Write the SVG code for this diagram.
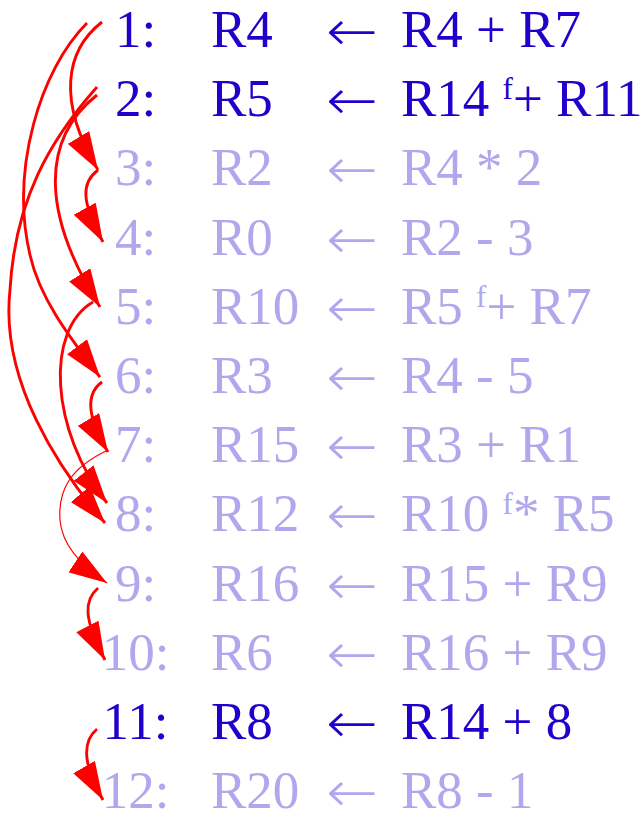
<svg xmlns="http://www.w3.org/2000/svg" width="644" height="813" viewBox="0 0 644 813">
<style>
text { font-family: "Liberation Serif", "Times New Roman", serif; font-size: 53px; }
.on { fill: #2200cc; }
.off { fill: #b0a8ec; }
.num { text-anchor: middle; }
.sup { font-size: 31px; }
.arr { font-family: "DejaVu Sans", sans-serif; font-weight: 200; font-size: 58px; }
.e { fill: none; stroke: #ff0000; stroke-width: 2.9; marker-end: url(#ah); }
.thin { stroke-width: 1.2; }
</style>
<defs>
<marker id="ah" markerUnits="userSpaceOnUse" viewBox="0 0 38 25" refX="38" refY="12.5" markerWidth="38" markerHeight="25" orient="auto">
<path d="M0,0 L38,12.5 L0,25 z" fill="#ff0000"/>
</marker>
</defs>
<rect width="644" height="813" fill="#ffffff"/>
<g id="row1" class="on"><text class="num" x="135.5" y="47">1:</text><text x="211" y="47">R4</text><text class="arr" x="326" y="51" textLength="52" lengthAdjust="spacingAndGlyphs">←</text><text x="401" y="47">R4 + R7</text></g>
<g id="row2" class="on"><text class="num" x="135.5" y="116.2">2:</text><text x="211" y="116.2">R5</text><text class="arr" x="326" y="120.2" textLength="52" lengthAdjust="spacingAndGlyphs">←</text><text x="401" y="116.2">R14 <tspan class="sup" dy="-17">f</tspan><tspan dy="17">+ R11</tspan></text></g>
<g id="row3" class="off"><text class="num" x="135.5" y="185.4">3:</text><text x="211" y="185.4">R2</text><text class="arr" x="326" y="189.4" textLength="52" lengthAdjust="spacingAndGlyphs">←</text><text x="401" y="185.4">R4 * 2</text></g>
<g id="row4" class="off"><text class="num" x="135.5" y="254.6">4:</text><text x="211" y="254.6">R0</text><text class="arr" x="326" y="258.6" textLength="52" lengthAdjust="spacingAndGlyphs">←</text><text x="401" y="254.6">R2 - 3</text></g>
<g id="row5" class="off"><text class="num" x="135.5" y="323.8">5:</text><text x="211" y="323.8">R10</text><text class="arr" x="326" y="327.8" textLength="52" lengthAdjust="spacingAndGlyphs">←</text><text x="401" y="323.8">R5 <tspan class="sup" dy="-17">f</tspan><tspan dy="17">+ R7</tspan></text></g>
<g id="row6" class="off"><text class="num" x="135.5" y="393">6:</text><text x="211" y="393">R3</text><text class="arr" x="326" y="397" textLength="52" lengthAdjust="spacingAndGlyphs">←</text><text x="401" y="393">R4 - 5</text></g>
<g id="row7" class="off"><text class="num" x="135.5" y="462.2">7:</text><text x="211" y="462.2">R15</text><text class="arr" x="326" y="466.2" textLength="52" lengthAdjust="spacingAndGlyphs">←</text><text x="401" y="462.2">R3 + R1</text></g>
<g id="row8" class="off"><text class="num" x="135.5" y="531.4">8:</text><text x="211" y="531.4">R12</text><text class="arr" x="326" y="535.4" textLength="52" lengthAdjust="spacingAndGlyphs">←</text><text x="401" y="531.4">R10 <tspan class="sup" dy="-17">f</tspan><tspan dy="17">* R5</tspan></text></g>
<g id="row9" class="off"><text class="num" x="135.5" y="600.6">9:</text><text x="211" y="600.6">R16</text><text class="arr" x="326" y="604.6" textLength="52" lengthAdjust="spacingAndGlyphs">←</text><text x="401" y="600.6">R15 + R9</text></g>
<g id="row10" class="off"><text class="num" x="135.5" y="669.8">10:</text><text x="211" y="669.8">R6</text><text class="arr" x="326" y="673.8" textLength="52" lengthAdjust="spacingAndGlyphs">←</text><text x="401" y="669.8">R16 + R9</text></g>
<g id="row11" class="on"><text class="num" x="135.5" y="739">11:</text><text x="211" y="739">R8</text><text class="arr" x="326" y="743" textLength="52" lengthAdjust="spacingAndGlyphs">←</text><text x="401" y="739">R14 + 8</text></g>
<g id="row12" class="off"><text class="num" x="135.5" y="807.5">12:</text><text x="211" y="807.5">R20</text><text class="arr" x="326" y="811.5" textLength="52" lengthAdjust="spacingAndGlyphs">←</text><text x="401" y="807.5">R8 - 1</text></g>
<g id="connectors">
<path class="e" d="M102,22 C66,50 56,100 98,170"/>
<path class="e" d="M87,23 C40,70 10,170 30,255 C40,300 72,340 100,377"/>
<path class="e" d="M97,95 C40,140 42,215 100,307"/>
<path class="e" d="M97,87 C50,140 15,200 10,290 C0,380 58,468 105,523"/>
<path class="e" d="M93,302 C45,330 50,430 107,503"/>
<path class="e" d="M98,170 C82,182 80,200 103,242"/>
<path class="e" d="M102,382 C88,392 84,412 108,452"/>
<path class="e thin" d="M108,450 C70,468 58,490 60,520 C62,545 80,565 107,583"/>
<path class="e" d="M98,588 C84,600 83,618 105,660"/>
<path class="e" d="M97,729 C84,740 80,760 103,800"/>
</g>
</svg>
